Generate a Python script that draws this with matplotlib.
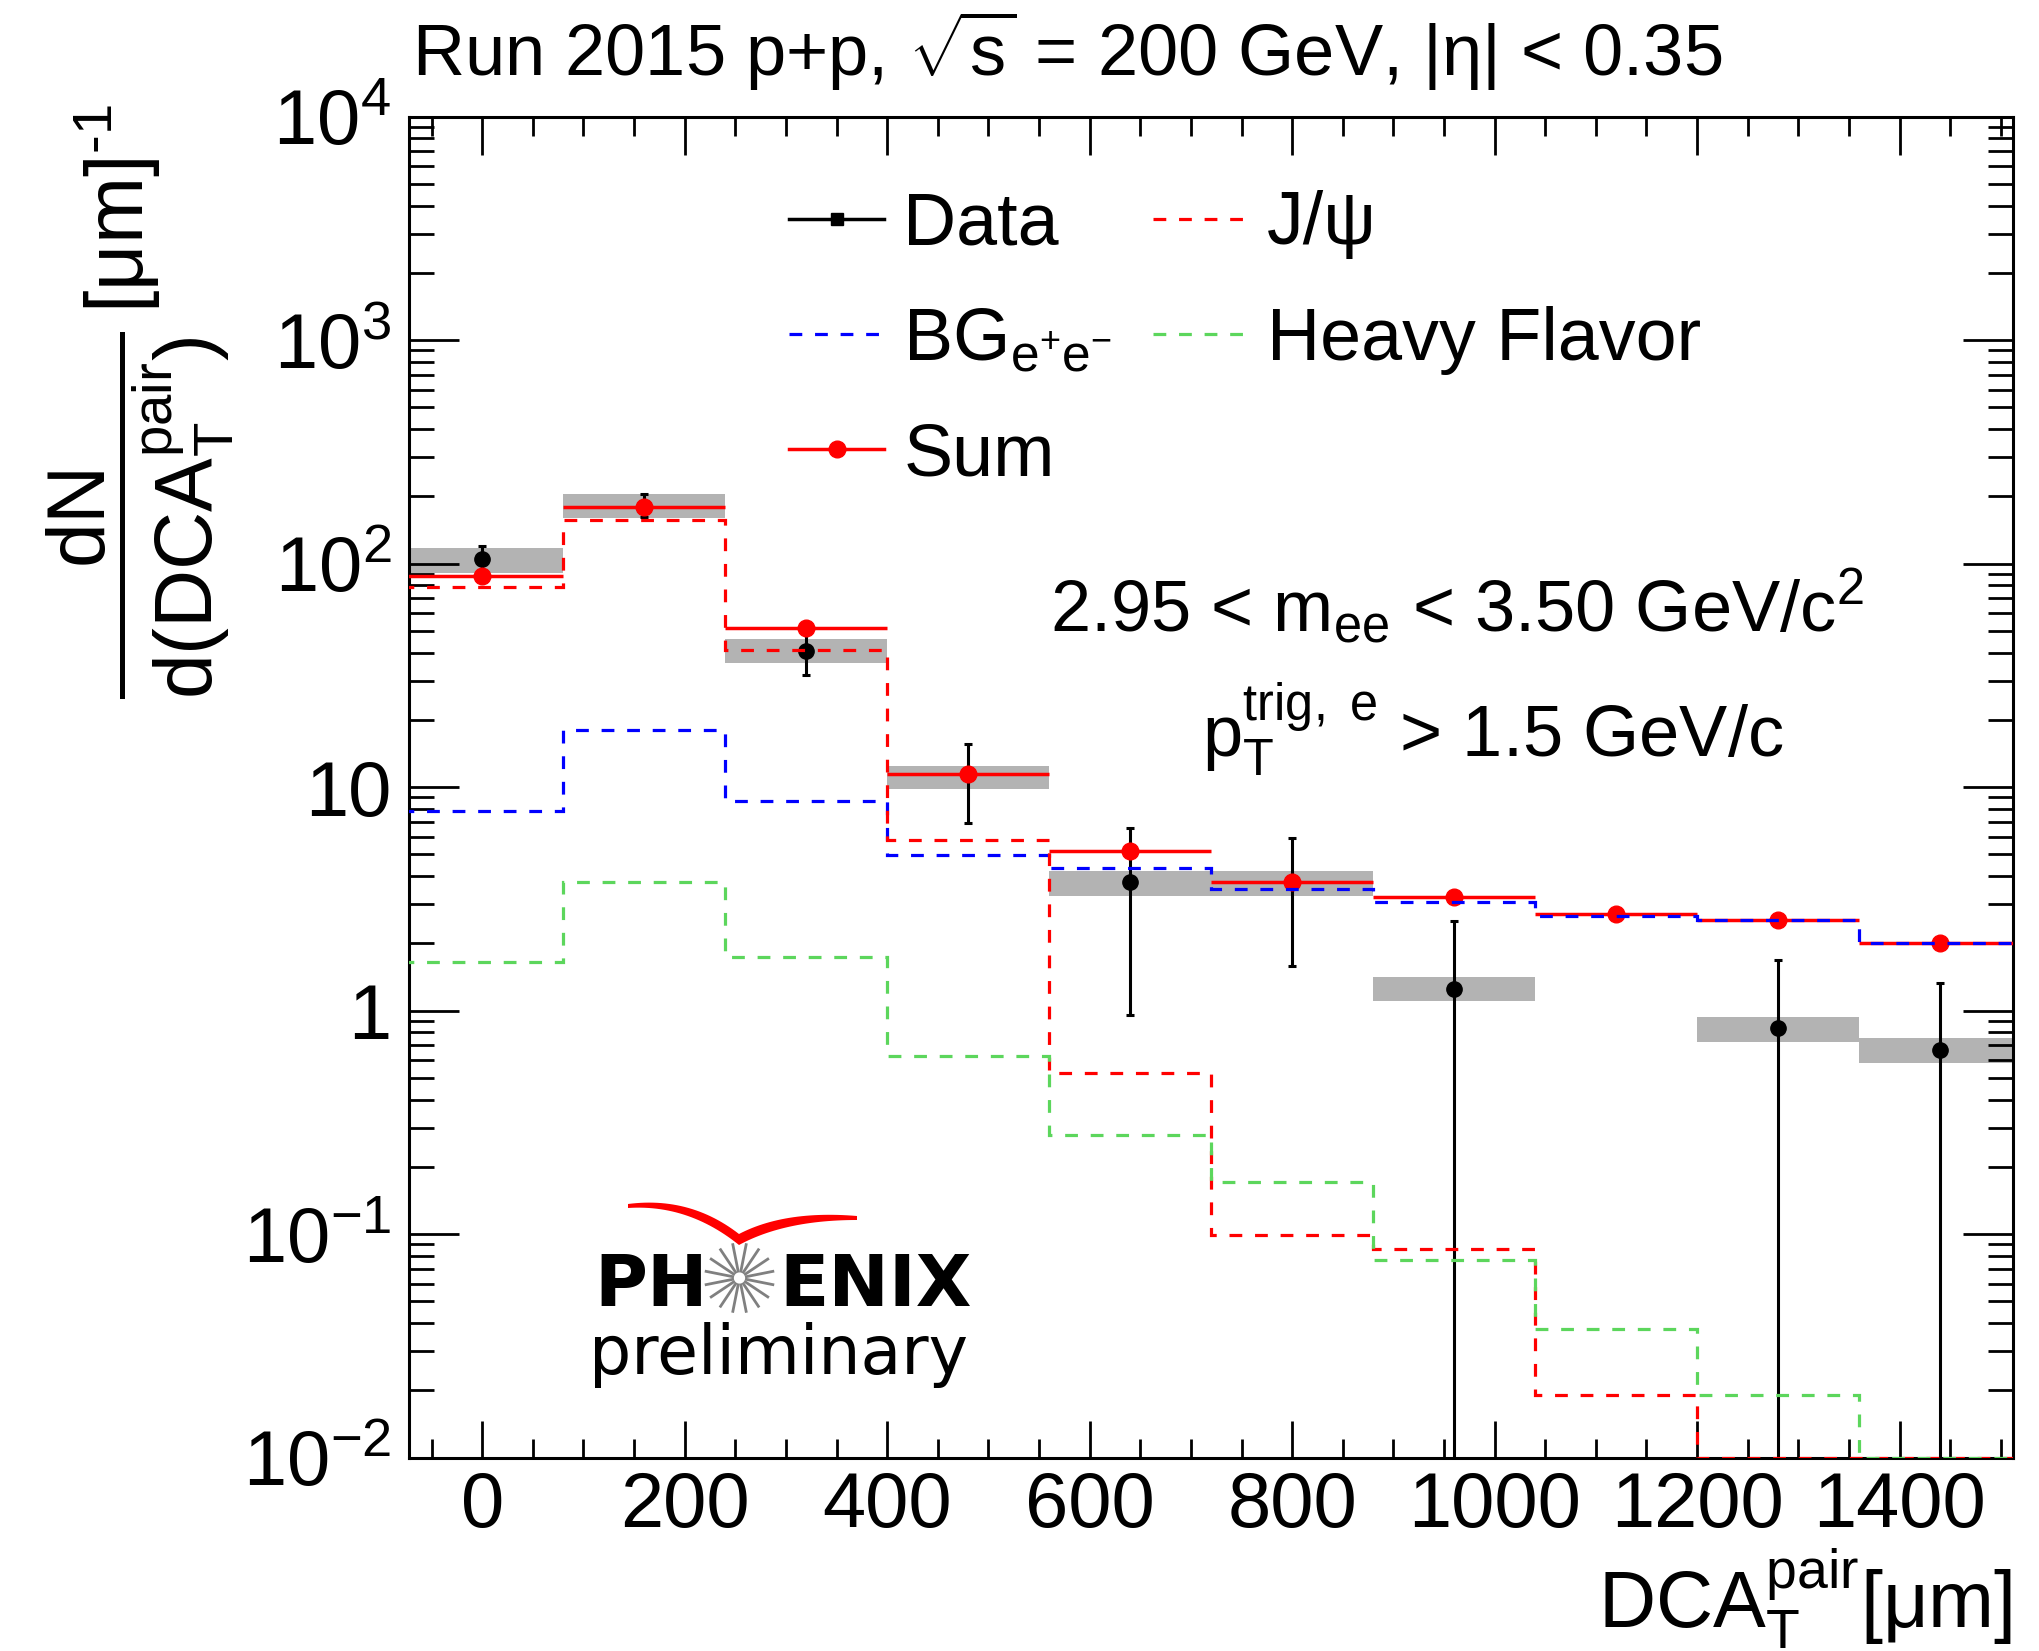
import numpy as np
import matplotlib
matplotlib.use("Agg")
import matplotlib.pyplot as plt
from matplotlib.lines import Line2D
from matplotlib.patches import Polygon
from matplotlib.ticker import FixedLocator, FixedFormatter, MultipleLocator, LogLocator, NullFormatter

plt.rcParams["font.family"] = ["Liberation Sans", "DejaVu Sans"]
plt.rcParams["mathtext.fontset"] = "custom"
plt.rcParams["mathtext.rm"] = "Liberation Sans"
plt.rcParams["mathtext.it"] = "Liberation Sans:italic"
plt.rcParams["mathtext.bf"] = "Liberation Sans:bold"
plt.rcParams["mathtext.sf"] = "Liberation Sans"

W, H = 2039, 1651

# ---------------- data ----------------
bin_edges = np.array([-80, 80, 240, 400, 560, 720, 880, 1040, 1200, 1360, 1520])

data_vals = np.array([104.6, 180, 40.8, 11.5, 3.76, 3.78, 1.25, np.nan, 0.838, 0.667])
data_hi = np.array([120, 204, 49.8, 15.6, 6.56, 5.94, 2.51, np.nan, 1.68, 1.33])
data_lo = np.array([89, 162, 31.8, 6.93, 0.957, 1.59, 0, np.nan, 0, 0])

sys_lo = np.array([90.6, 160, 35.8, 9.79, 3.26, 3.26, 1.10, np.nan, 0.724, 0.585])
sys_hi = np.array([117.5, 205, 45.9, 12.5, 4.22, 4.22, 1.41, np.nan, 0.938, 0.755])

sum_vals = np.array([88.4, 180, 51.5, 11.5, 5.17, 3.78, 3.23, 2.71, 2.55, 2.00])
bg_vals = np.array([7.80, 18.0, 8.71, 4.99, 4.35, 3.51, 3.06, 2.66, 2.55, 2.00])
jpsi_vals = np.array([78.9, 157, 41.2, 5.81, 0.526, 0.0988, 0.0861, 0.0191, 0.01, 0.01])
hf_vals = np.array([1.65, 3.78, 1.74, 0.629, 0.277, 0.172, 0.0766, 0.0378, 0.0191, 0.01])

x_major = [0, 200, 400, 600, 800, 1000, 1200, 1400]
y_ticks = [1e-2, 1e-1, 1, 10, 1e2, 1e3, 1e4]
y_labels = [r"$10^{-2}$", r"$10^{-1}$", "1", "10", r"$10^{2}$", r"$10^{3}$", r"$10^{4}$"]

centers = 0.5 * (bin_edges[:-1] + bin_edges[1:])
half_w = 0.5 * np.diff(bin_edges)


def px(x, y):
    return x / W, 1 - y / H


fig = plt.figure(figsize=(W / 100, H / 100), dpi=100)
ax = fig.add_axes([409.3 / W, 1 - 1457.7 / H, (2013 - 409.3) / W, (1457.7 - 116.7) / H])

ax.set_yscale("log", nonpositive="clip")
ax.set_xlim(-72, 1512)
ax.set_ylim(1e-2, 1e4)

# systematic bands
ax.bar(centers, sys_hi - sys_lo, bottom=sys_lo, width=np.diff(bin_edges),
       color="#b3b3b3", edgecolor="none", zorder=1)

ax.errorbar(centers, data_vals, yerr=[data_vals - data_lo, data_hi - data_vals],
            fmt="o", color="black", ms=11, elinewidth=2.2, capsize=3.2, capthick=2.2, zorder=3)
ax.errorbar(centers, sum_vals, xerr=half_w, fmt="o", color="#ff0000", ms=12,
            elinewidth=2.5, capsize=0, zorder=4)

# model components (drawn last, like ROOT "same")
dash = (0, (4.0, 4.0))
ax.stairs(bg_vals, bin_edges, baseline=None, color="#0000ff", lw=2.3, ls=dash, zorder=5)
ax.stairs(jpsi_vals, bin_edges, baseline=None, color="#ff0000", lw=2.3, ls=dash, zorder=5)
ax.stairs(hf_vals, bin_edges, baseline=None, color="#5cd65c", lw=2.3, ls=dash, zorder=5)

# axes styling
for s in ax.spines.values():
    s.set_linewidth(2.2)
ax.xaxis.set_major_locator(FixedLocator(x_major))
ax.xaxis.set_minor_locator(MultipleLocator(50))
ax.yaxis.set_major_locator(FixedLocator(y_ticks))
ax.yaxis.set_major_formatter(FixedFormatter(y_labels))
ax.yaxis.set_minor_locator(LogLocator(base=10, subs=np.arange(2, 10), numticks=20))
ax.yaxis.set_minor_formatter(NullFormatter())
ax.tick_params(which="both", direction="in", top=True, right=True, width=2, labelsize=56)
ax.tick_params(axis="x", which="major", length=27, pad=9)
ax.tick_params(axis="x", which="minor", length=13.5)
ax.tick_params(axis="y", which="major", length=36, pad=13)
ax.tick_params(axis="y", which="minor", length=18)

# legend
handles = [
    Line2D([], [], color="black", lw=2.5, marker="s", ms=9),
    Line2D([], [], color="#0000ff", lw=2.3, ls=dash),
    Line2D([], [], color="#ff0000", lw=2.5, marker="o", ms=12),
    Line2D([], [], color="#ff0000", lw=2.3, ls=dash),
    Line2D([], [], color="#5cd65c", lw=2.3, ls=dash),
]
labels = ["Data", r"BG$_{\mathrm{e^{+}e^{-}}}$", "Sum", "J/ψ", "Heavy Flavor"]
ax.legend(handles, labels, ncol=2, loc="upper left", bbox_to_anchor=(0.2368, 0.945),
          frameon=False, fontsize=53, handlelength=1.29, handletextpad=0.26,
          columnspacing=0.55, labelspacing=0.63, borderpad=0, borderaxespad=0)

# texts
fig.text(*px(411.7, 76), r"Run 2015 p+p, $\sqrt{\mathrm{s}}$ = 200 GeV, |η| < 0.35",
         fontsize=52, ha="left", va="baseline")
fig.text(*px(1050, 631), r"2.95 < m$_{\mathrm{ee}}$ < 3.50 GeV/c$^{2}$",
         fontsize=52, ha="left", va="baseline")
fig.text(*px(1202, 757), r"p$_{\mathrm{T}}^{\mathrm{trig,\ e}}$ > 1.5 GeV/c",
         fontsize=52, ha="left", va="baseline")
fig.text(*px(2012, 1628), r"DCA$_{\mathrm{T}}^{\mathrm{pair}}$[μm]",
         fontsize=57, ha="right", va="baseline")
fig.text(*px(140, 104),
         r"$\dfrac{\mathrm{dN}}{\mathrm{d(DCA}_{\mathrm{T}}^{\mathrm{pair}}\mathrm{)}}\,[\mathrm{\mu m}]^{\text{-1}}$",
         fontsize=58, rotation=90, ha="center", va="top")

# PHENIX preliminary logo
fig.text(*px(594, 1306), "PH", fontsize=52, fontweight="bold", family="DejaVu Sans",
         ha="left", va="baseline")
fig.text(*px(779, 1306), "ENIX", fontsize=52, fontweight="bold", family="DejaVu Sans",
         ha="left", va="baseline")
fig.text(*px(589, 1374), "preliminary", fontsize=48, family="DejaVu Sans",
         ha="left", va="baseline")

cx, cy = 739.5, 1278
for ang in np.deg2rad(np.arange(16) * 22.5 + 11.25):
    x0, y0 = cx + 7 * np.cos(ang), cy + 7 * np.sin(ang)
    x1, y1 = cx + 34 * np.cos(ang), cy + 34 * np.sin(ang)
    fig.add_artist(Line2D([x0 / W, x1 / W], [1 - y0 / H, 1 - y1 / H],
                          transform=fig.transFigure, color="#808080", lw=2))


def bezier(p0, p1, p2, n=30):
    t = np.linspace(0, 1, n)[:, None]
    p0, p1, p2 = map(np.asarray, (p0, p1, p2))
    return (1 - t) ** 2 * p0 + 2 * (1 - t) * t * p1 + t ** 2 * p2


wing = np.vstack([
    bezier((628, 1204), (690, 1196), (739, 1234)),
    bezier((739, 1234), (785, 1210), (857, 1216)),
    bezier((857, 1220), (785, 1220), (739, 1245)),
    bezier((739, 1245), (688, 1204), (628, 1208)),
])
wing_fig = np.column_stack([wing[:, 0] / W, 1 - wing[:, 1] / H])
fig.add_artist(Polygon(wing_fig, closed=True, transform=fig.transFigure,
                       facecolor="#ff0000", edgecolor="none"))

fig.savefig("out.png", dpi=100)
